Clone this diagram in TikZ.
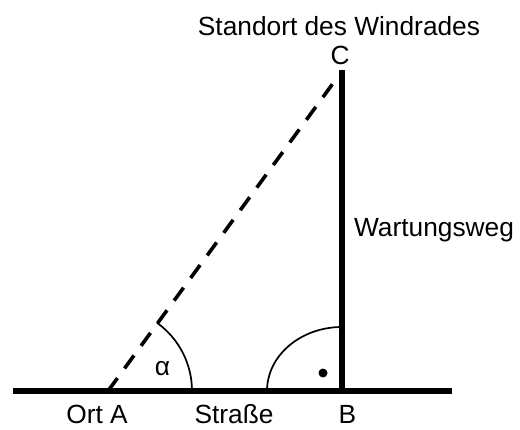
\documentclass[tikz,border=0pt]{standalone}
\usepackage{fontspec}
\setmainfont{Liberation Sans}
\begin{document}
\begin{tikzpicture}[x=1pt,y=1pt,
  thick line/.style={line width=5.5pt},
  dash line/.style={line width=3.6pt,dash pattern=on 16pt off 12pt},
  angle arc/.style={line width=1.7pt},
  lbl/.style={anchor=base,inner sep=0pt,font=\fontsize{26.3}{30}\selectfont}]
\useasboundingbox (0,0) rectangle (520,429);
\coordinate (L) at (13,38);
\coordinate (R) at (452,38);
\coordinate (A) at (108,38);
\coordinate (B) at (342,38);
\coordinate (C) at (342,359);
\coordinate (Dend) at (334,347);
\coordinate (Bs) at (267,38);
\draw[thick line] (L) -- (R);
\draw[thick line] (B) -- (C);
\draw[dash line] (A) -- (Dend);
\draw[angle arc] ([shift={(84,0)}]A) arc[start angle=0,end angle=54.5,radius=84];
\draw[angle arc] (Bs) arc[start angle=180,end angle=90,x radius=75,y radius=64];
\fill (323,56) circle[radius=4.5];
\node[lbl] (tS) at (339,393) {Standort des Windrades};
\node[lbl] (tC) at (340,364) {C};
\node[lbl] (tW) at (434,192) {Wartungsweg};
\node[lbl] (ta) at (162.5,54) {α};
\node[lbl] (tA) at (97,5.5) {Ort A};
\node[lbl] (tStr) at (234,5.5) {Straße};
\node[lbl] (tB) at (347.5,5.5) {B};
\end{tikzpicture}
\end{document}
